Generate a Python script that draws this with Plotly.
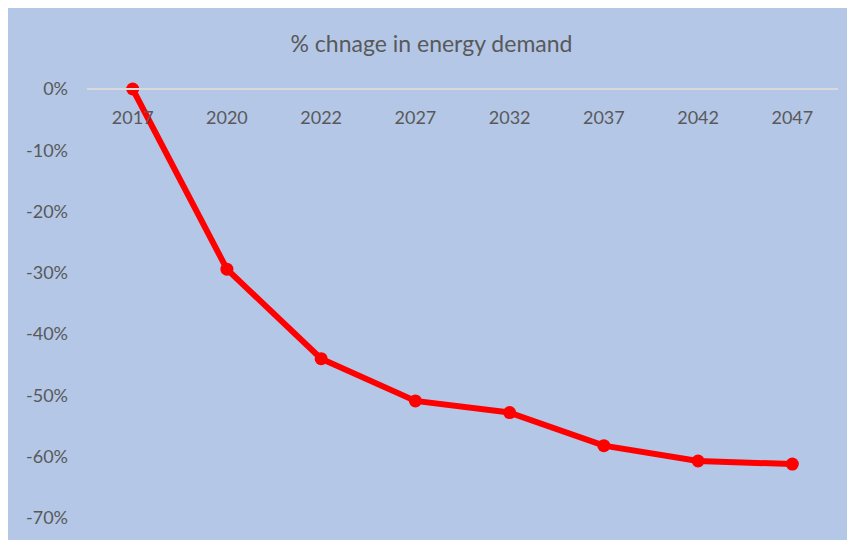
import plotly.graph_objects as go

years = ["2017", "2020", "2022", "2027", "2032", "2037", "2042", "2047"]
pct_change = [0.0, -0.294, -0.44, -0.509, -0.528, -0.582, -0.607, -0.612]

y_tick_vals = [0, -0.1, -0.2, -0.3, -0.4, -0.5, -0.6, -0.7]
y_tick_text = ["0%", "-10%", "-20%", "-30%", "-40%", "-50%", "-60%", "-70%"]

bg_blue = "#B4C7E7"
text_grey = "#595959"

fig = go.Figure()

fig.add_trace(go.Scatter(x=years, y=pct_change, mode="lines+markers",
                         line=dict(color="#FF0000", width=6),
                         marker=dict(color="#FF0000", size=13),
                         cliponaxis=False, showlegend=False))

# page body margin leaves the white strip on top/left
fig.update_layout(
    width=847, height=532,
    margin=dict(l=79, r=17, t=81, b=15),
    paper_bgcolor=bg_blue,
    plot_bgcolor=bg_blue,
    font=dict(family="Lato, Calibri, sans-serif", size=18, color=text_grey),
    title=dict(text="% chnage in energy demand", x=0.5, xanchor="center",
               y=1 - 36 / 532, yanchor="middle",
               font=dict(size=23, color=text_grey)),
    xaxis=dict(type="category", anchor="free", position=1, side="bottom",
               showline=True, linecolor="#D9D9D9", linewidth=2,
               showgrid=False, ticks="", ticklabelstandoff=12,
               tickfont=dict(size=18, color=text_grey)),
    yaxis=dict(range=[-0.7, 0], tickvals=y_tick_vals, ticktext=y_tick_text,
               showgrid=False, zeroline=False, showline=False,
               ticklabelstandoff=18,
               tickfont=dict(size=18, color=text_grey)),
)

fig.write_html("out.html")
